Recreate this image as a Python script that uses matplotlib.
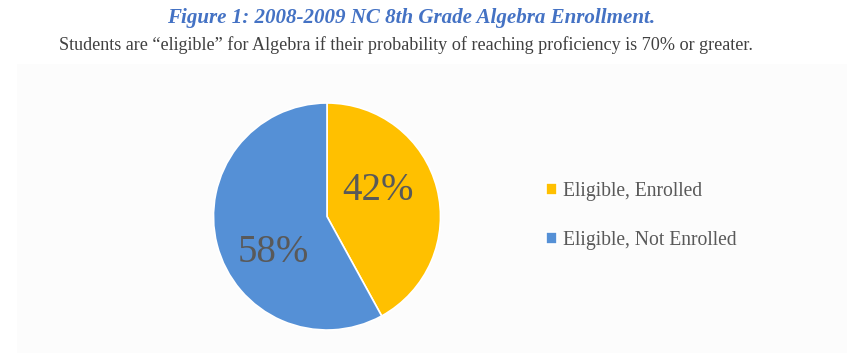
import numpy as np
import matplotlib.pyplot as plt
from matplotlib.patches import Rectangle

# data
labels = ["Eligible, Enrolled", "Eligible, Not Enrolled"]
shares = [42, 58]
colors = ["#FFC000", "#5590D6"]

title = "Figure 1: 2008-2009 NC 8th Grade Algebra Enrollment."
subtitle = ("Students are \u201celigible\u201d for Algebra if their probability "
            "of reaching proficiency is 70% or greater.")

W, H = 856, 353
fig = plt.figure(figsize=(W / 100, H / 100), dpi=100)
serif = ["Liberation Serif", "DejaVu Serif"]

# faint chart-area panel
fig.patches.append(Rectangle((17 / W, 0), (847 - 17) / W, (H - 64) / H,
                             transform=fig.transFigure, facecolor="#FCFCFC",
                             edgecolor="none", zorder=-5))

fig.text(411 / W, 1 - 18 / H, title, ha="center", va="center", family=serif,
         fontsize=15.1, fontweight="bold", style="italic", color="#4472C4")
fig.text(406 / W, 1 - 45 / H, subtitle, ha="center", va="center", family=serif,
         fontsize=13.1, color="#404040")

# pie axes, centre (327, 216.5), radius 113.5 px
cx, cy, r = 327, 216.5, 113.5
ax = fig.add_axes([(cx - r) / W, (H - cy - r) / H, 2 * r / W, 2 * r / H])
ax.set_zorder(2)
wedges, _ = ax.pie(shares, colors=colors, startangle=90, counterclock=False,
                   radius=1, wedgeprops=dict(edgecolor="white", linewidth=1.2))
ax.set_xlim(-1, 1)
ax.set_ylim(-1, 1)
ax.set_aspect("equal")
ax.axis("off")

# percentage labels (Excel best-fit: rotated a bit from the mid-angle)
rot = [12.6, 19.3]
dist = [0.505, 0.572]
start = 90
for v, a, d in zip(shares, rot, dist):
    mid = start - v / 2 * 3.6
    ang = np.deg2rad(mid + a)
    ax.text(d * np.cos(ang), d * np.sin(ang), f"{v}%", ha="center",
            va="center", family=serif, fontsize=28, color="#595959")
    start -= v * 3.6

fig.legend(wedges, labels, loc="center left",
           bbox_to_anchor=(546 / W, 1 - 216 / H), frameon=False,
           prop={"family": serif, "size": 14.1}, labelcolor="#595959",
           handlelength=0.55, handleheight=0.55, handletextpad=0.3,
           labelspacing=1.55, borderaxespad=0, borderpad=0)

fig.savefig("out.png", dpi=100, facecolor="white")
